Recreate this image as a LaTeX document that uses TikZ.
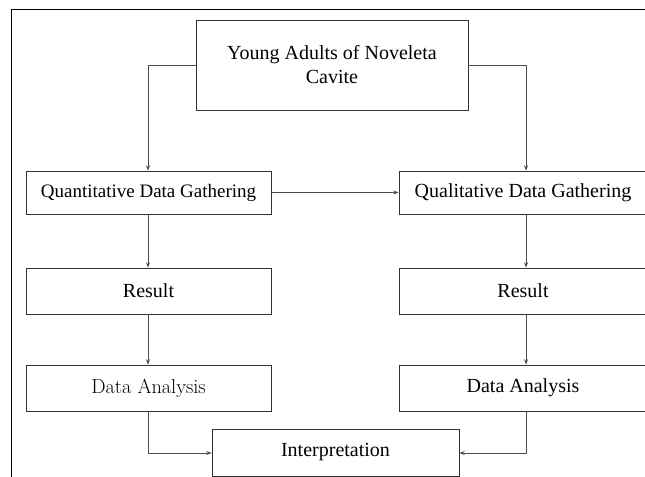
\documentclass[tikz,border=0pt]{standalone}
\usepackage{fontspec}
\newfontfamily\tnr{Liberation Serif}
\usetikzlibrary{arrows.meta}
\begin{document}
\begin{tikzpicture}[x=0.75pt,y=-0.75pt,
  box/.style={draw=black!80,line width=0.6pt,inner sep=0pt,align=center,
    font=\tnr\fontsize{15}{18}\selectfont},
  conn/.style={draw=black!70,line width=0.6pt,-{Stealth[length=4pt,width=3pt]}},
  frameline/.style={draw=black,line width=0.9pt}]
\useasboundingbox (0,0) rectangle (645,477);
\clip (0,0) rectangle (645,477);
\coordinate (fa) at (11.5,480);
\coordinate (fb) at (11.5,9.5);
\coordinate (fc) at (650,9.5);
\draw[frameline] (fa) -- (fb) -- (fc);
\node[box,minimum width=204pt,minimum height=67.5pt] (top) at (332,65)
  {Young Adults of Noveleta\\Cavite};
\node[box,minimum width=183.75pt,minimum height=32.25pt,
  font=\tnr\fontsize{14.25}{17}\selectfont] (quant) at (148.5,192.5) {Quantitative Data Gathering};
\node[box,minimum width=186pt,minimum height=32.25pt] (qual) at (523,192.5) {Qualitative Data Gathering};
\node[box,minimum width=183.75pt,minimum height=34.5pt] (resL) at (148.5,291) {Result};
\node[box,minimum width=186pt,minimum height=34.5pt] (resR) at (523,291) {Result};
\node[box,minimum width=183.75pt,minimum height=34.5pt,
  font=\rmfamily\fontsize{15.2}{18}\selectfont] (daL) at (148.5,388) {Data Analysis};
\node[box,minimum width=186pt,minimum height=34.5pt] (daR) at (523,388) {Data Analysis};
\node[box,minimum width=185.25pt,minimum height=35.25pt] (interp) at (335.5,452.5) {Interpretation};
\coordinate (rx) at (526,0);
\coordinate (lx) at (148,0);
\coordinate (by) at (0,453);
\draw[conn] (top.west) -| (lx |- quant.north);
\draw[conn] (top.east) -| (rx |- qual.north);
\draw[conn] (quant.east) -- (qual.west);
\draw[conn] (lx |- quant.south) -- (lx |- resL.north);
\draw[conn] (rx |- qual.south) -- (rx |- resR.north);
\draw[conn] (lx |- resL.south) -- (lx |- daL.north);
\draw[conn] (rx |- resR.south) -- (rx |- daR.north);
\draw[conn] (lx |- daL.south) |- (interp.west |- by);
\draw[conn] (rx |- daR.south) |- (interp.east |- by);
\end{tikzpicture}
\end{document}
